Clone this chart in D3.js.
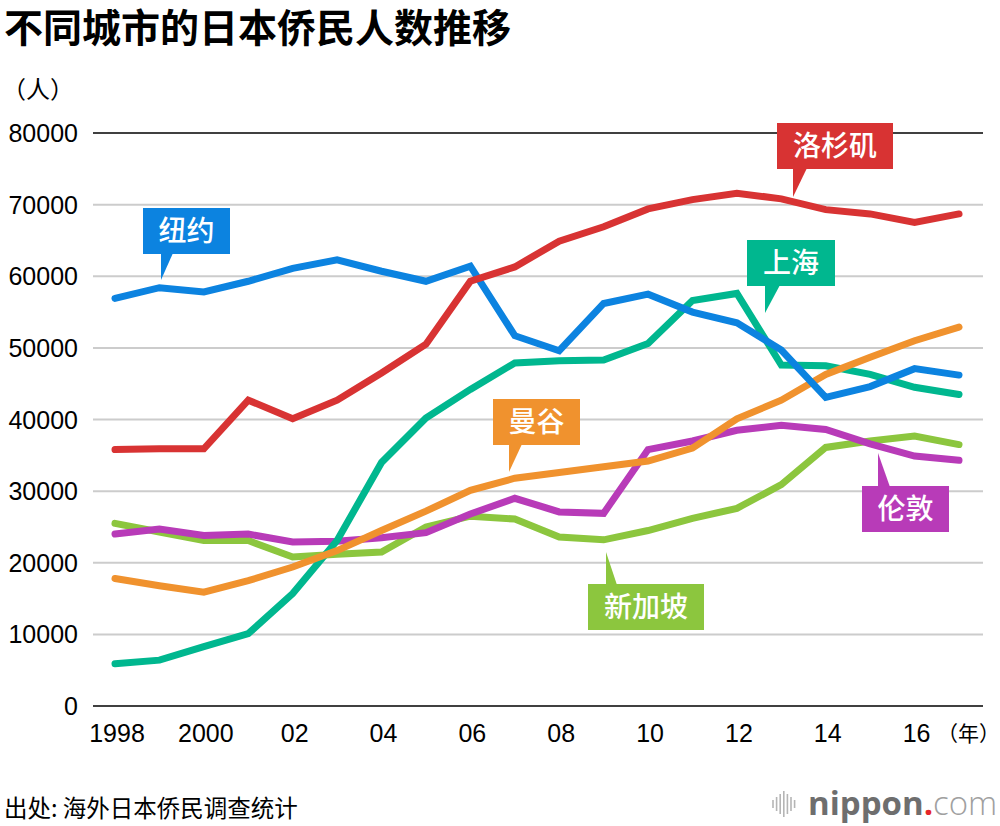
<!DOCTYPE html>
<html lang="zh">
<head>
<meta charset="UTF-8">
<title>不同城市的日本侨民人数推移</title>
<script src="https://d3js.org/d3.v7.min.js"></script>
<style>
  body { margin: 0; background: #fff; }
  svg { display: block; }
  .cjk { font-family: "Noto Sans CJK SC", "Noto Sans", sans-serif; }
  .num { font-family: "Liberation Sans", Arial, sans-serif; }
</style>
</head>
<body>
<div id="chart"></div>
<script>
  // data
  const years = d3.range(1998, 2018)
  const yTicks = [0, 10000, 20000, 30000, 40000, 50000, 60000, 70000, 80000]
  const xTicks = [1998, 2000, 2002, 2004, 2006, 2008, 2010, 2012, 2014, 2016]
  const xTickLabels = ['1998', '2000', '02', '04', '06', '08', '10', '12', '14', '16']

  const losAngeles = [35800, 35900, 35900, 42700, 40100, 42700, 46500, 50500, 59300, 61300,
                      64900, 66900, 69400, 70700, 71600, 70800, 69300, 68700, 67500, 68700]
  const newYork = [56900, 58400, 57800, 59300, 61100, 62300, 60700, 59300, 61400, 51700,
                   49600, 56200, 57500, 55000, 53500, 49700, 43100, 44600, 47100, 46200]
  const shanghai = [5900, 6400, 8300, 10100, 15700, 23100, 34000, 40200, 44200, 47900,
                    48200, 48300, 50600, 56600, 57600, 47600, 47500, 46300, 44500, 43500]
  const bangkok = [17800, 16800, 15900, 17500, 19400, 21700, 24500, 27200, 30100, 31800,
                   32600, 33400, 34200, 36000, 40100, 42700, 46300, 48700, 51000, 52900]
  const london = [24000, 24700, 23800, 24000, 22900, 23000, 23500, 24200, 26800, 29000,
                  27100, 26900, 35800, 37000, 38500, 39200, 38600, 36600, 34900, 34300]
  const singapore = [25500, 24300, 23100, 23100, 20800, 21200, 21500, 25000, 26500, 26100,
                     23600, 23200, 24500, 26200, 27600, 30900, 36100, 37000, 37700, 36500]

  const series = [
    { name: '新加坡', values: singapore, color: '#8cc63e' },
    { name: '伦敦', values: london, color: '#b83bb8' },
    { name: '上海', values: shanghai, color: '#00b78f' },
    { name: '曼谷', values: bangkok, color: '#f0922e' },
    { name: '纽约', values: newYork, color: '#0c83e0' },
    { name: '洛杉矶', values: losAngeles, color: '#d83333' }
  ]

  // callout boxes: box rect + pointer (tip in px, base on box edge)
  const callouts = [
    { name: '纽约', box: [143, 208, 87, 46], tip: [161, 280], base: [161, 173], side: 'bottom' },
    { name: '洛杉矶', box: [777, 123, 116, 46], tip: [793, 197], base: [793, 807], side: 'bottom' },
    { name: '上海', box: [747, 240, 88, 46], tip: [765, 313], base: [765, 780], side: 'bottom' },
    { name: '曼谷', box: [493, 399, 87, 46], tip: [509, 472], base: [509, 522], side: 'bottom' },
    { name: '伦敦', box: [862, 486, 87, 46], tip: [878, 453], base: [878, 890], side: 'top' },
    { name: '新加坡', box: [588, 584, 116, 46], tip: [606, 552], base: [606, 617], side: 'top' }
  ]

  const width = 1000, height = 826

  const svg = d3.select('#chart').append('svg')
    .attr('width', width)
    .attr('height', height)

  const x = d3.scaleLinear().domain([1998, 2017]).range([115, 959])
  const y = d3.scaleLinear().domain([0, 80000]).range([706, 133])

  // title
  svg.append('text')
    .attr('class', 'cjk')
    .attr('x', 4).attr('y', 42)
    .style('font-size', '39px').style('font-weight', 700)
    .text('不同城市的日本侨民人数推移')

  svg.append('text')
    .attr('class', 'cjk')
    .attr('x', 2).attr('y', 98)
    .style('font-size', '24px')
    .text('（人）')

  // grid
  svg.selectAll('line.grid')
    .data(yTicks)
    .enter()
    .append('line')
    .attr('class', 'grid')
    .attr('x1', 93).attr('x2', 983)
    .attr('y1', d => y(d)).attr('y2', d => y(d))
    .attr('stroke', d => (d === 0 || d === 80000) ? '#000' : '#cccccc')
    .attr('stroke-width', d => (d === 0 || d === 80000) ? 1.6 : 2)

  svg.selectAll('text.ytick')
    .data(yTicks)
    .enter()
    .append('text')
    .attr('class', 'ytick num')
    .attr('x', 78)
    .attr('y', d => y(d) + 9)
    .attr('text-anchor', 'end')
    .style('font-size', '25px')
    .text(d => d)

  svg.selectAll('text.xtick')
    .data(xTicks)
    .enter()
    .append('text')
    .attr('class', 'xtick num')
    .attr('x', d => x(d) + 2)
    .attr('y', 742)
    .attr('text-anchor', 'middle')
    .style('font-size', '25px')
    .text((d, i) => xTickLabels[i])

  svg.append('text')
    .attr('class', 'cjk')
    .attr('x', 1000).attr('y', 741)
    .attr('text-anchor', 'end')
    .style('font-size', '21px')
    .text('（年）')

  // lines
  const line = d3.line()
    .x((d, i) => x(years[i]))
    .y(d => y(d))

  svg.selectAll('path.series')
    .data(series)
    .enter()
    .append('path')
    .attr('class', 'series')
    .attr('d', d => line(d.values))
    .attr('fill', 'none')
    .attr('stroke', d => d.color)
    .attr('stroke-width', 7)
    .attr('stroke-linejoin', 'miter')
    .attr('stroke-linecap', 'round')

  // callouts
  const colorOf = name => series.find(s => s.name === name).color
  const cg = svg.selectAll('g.callout')
    .data(callouts)
    .enter()
    .append('g')
    .attr('class', 'callout')

  cg.append('rect')
    .attr('x', d => d.box[0]).attr('y', d => d.box[1])
    .attr('width', d => d.box[2]).attr('height', d => d.box[3])
    .attr('fill', d => colorOf(d.name))

  cg.append('polygon')
    .attr('points', d => {
      const edge = d.side === 'bottom' ? d.box[1] + d.box[3] - 1 : d.box[1] + 1
      return `${d.base[0]},${edge} ${d.base[1]},${edge} ${d.tip[0]},${d.tip[1]}`
    })
    .attr('fill', d => colorOf(d.name))

  cg.append('text')
    .attr('class', 'cjk')
    .attr('x', d => d.box[0] + d.box[2] / 2)
    .attr('y', d => d.box[1] + d.box[3] / 2 + 10)
    .attr('text-anchor', 'middle')
    .attr('fill', '#fff')
    .style('font-size', '28px')
    .style('font-weight', 500)
    .text(d => d.name)

  // footer
  svg.append('text')
    .attr('class', 'cjk')
    .attr('x', 4).attr('y', 817)
    .style('font-size', '23.5px')
    .text('出处: 海外日本侨民调查统计')

  // nippon.com logo
  const bars = [8, 14, 20, 26, 20, 14, 8]
  svg.selectAll('line.logo')
    .data(bars)
    .enter()
    .append('line')
    .attr('class', 'logo')
    .attr('x1', (d, i) => 773 + i * 3.6).attr('x2', (d, i) => 773 + i * 3.6)
    .attr('y1', d => 804 - d / 2).attr('y2', d => 804 + d / 2)
    .attr('stroke', '#b5b5b5')
    .attr('stroke-width', 1.6)

  const logo = svg.append('text')
    .attr('x', 808).attr('y', 815)
    .style('font-family', '"Open Sans", "Noto Sans", sans-serif')
    .style('font-size', '33px')
  logo.append('tspan').attr('fill', '#6e6e6e').style('font-weight', 700).text('nippon')
  logo.append('tspan').attr('fill', '#e5262a').style('font-weight', 700).text('.')
  logo.append('tspan').attr('fill', '#a0a0a0').style('font-weight', 300).text('com')
</script>
</body>
</html>
